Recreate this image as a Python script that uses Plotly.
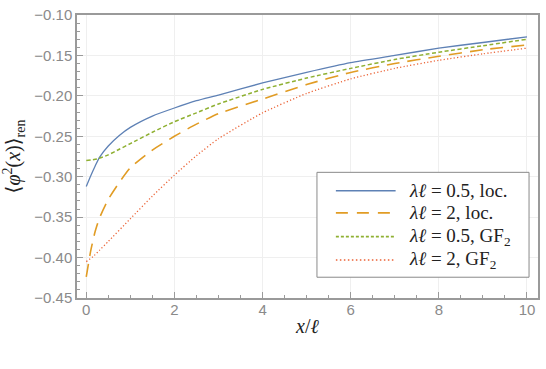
import plotly.graph_objects as go

# ---- data ----
x_blue = [0, 0.1, 0.2, 0.3, 0.5, 0.75, 1, 1.5, 2, 2.5, 3, 4, 5, 6, 7, 8, 9, 10]
y_blue = [-0.312, -0.299, -0.287, -0.276, -0.262, -0.249, -0.239, -0.225, -0.215, -0.206,
          -0.199, -0.184, -0.171, -0.159, -0.150, -0.141, -0.134, -0.127]

x_orange = [0, 0.1, 0.2, 0.3, 0.5, 0.75, 1, 1.5, 2, 2.5, 3, 4, 5, 6, 7, 8, 9, 10]
y_orange = [-0.424, -0.392, -0.368, -0.351, -0.328, -0.307, -0.289, -0.267, -0.250, -0.235,
            -0.222, -0.204, -0.186, -0.171, -0.160, -0.151, -0.143, -0.137]

x_green = [0, 0.25, 0.5, 0.75, 1, 1.5, 2, 2.5, 3, 4, 5, 6, 7, 8, 9, 10]
y_green = [-0.280, -0.278, -0.273, -0.266, -0.259, -0.245, -0.232, -0.221, -0.210,
           -0.192, -0.178, -0.166, -0.155, -0.146, -0.138, -0.130]

x_red = [0, 0.15, 0.3, 0.5, 1, 1.5, 2, 2.5, 3, 4, 5, 6, 7, 8, 9, 10]
y_red = [-0.405, -0.399, -0.391, -0.380, -0.352, -0.324, -0.298, -0.274, -0.253,
         -0.221, -0.197, -0.179, -0.166, -0.156, -0.148, -0.141]

names = ["<i>λℓ</i> = 0.5, loc.", "<i>λℓ</i> = 2, loc.",
         "<i>λℓ</i> = 0.5, GF<sub>2</sub>", "<i>λℓ</i> = 2, GF<sub>2</sub>"]
colors = ["#5e81b5", "#e19c24", "#8fb032", "#eb6235"]
dashes = ["solid", "13px,8px", "4px,2.5px", "1.2px,2.2px"]
widths = [1.3, 1.6, 1.5, 1.3]
leg_dashes = ["solid", "12px,9px", "3px,2px", "1.5px,2.5px"]

xs = [x_blue, x_orange, x_green, x_red]
ys = [y_blue, y_orange, y_green, y_red]

fig = go.Figure()
for xv, yv, c, d, w, n in zip(xs, ys, colors, dashes, widths, names):
    fig.add_trace(go.Scatter(x=xv, y=yv, mode="lines", name=n,
                             line=dict(color=c, dash=d, width=w, shape="spline", smoothing=0.5),
                             showlegend=False))

axis_col = "#9a9a9a"
tick_font = dict(family="Liberation Sans, Arial, sans-serif", size=15, color="#8a8a8a")
serif = "Liberation Serif, DejaVu Serif, serif"

fig.update_layout(
    width=546, height=369,
    margin=dict(l=77, r=6, t=12, b=71),
    paper_bgcolor="white", plot_bgcolor="white",
    showlegend=False,
    xaxis=dict(range=[-0.21, 10.25], dtick=2, tick0=0, ticks="inside", ticklen=6,
               tickcolor=axis_col, tickwidth=1, showline=True, linecolor=axis_col,
               linewidth=1.5, mirror=True, showgrid=True, gridcolor="#efefef",
               gridwidth=1, zeroline=False, tickfont=tick_font, ticklabelstandoff=-3,
               minor=dict(dtick=0.5, ticks="inside", ticklen=3.5, tickcolor=axis_col, showgrid=False),
               title=dict(text="<i>x</i>/<i>ℓ</i>", font=dict(family=serif, size=20, color="#222"),
                          standoff=2)),
    yaxis=dict(range=[-0.45, -0.10], dtick=0.05, tick0=-0.45, tickformat=".2f",
               ticks="inside", ticklen=6, tickcolor=axis_col, tickwidth=1,
               showline=True, linecolor=axis_col, linewidth=1.5, mirror=True,
               showgrid=True, gridcolor="#efefef", gridwidth=1, zeroline=False,
               tickfont=tick_font,
               minor=dict(dtick=0.01, ticks="inside", ticklen=3.5, tickcolor=axis_col, showgrid=False),
               title=dict(text="⟨<i>φ</i><sup>2</sup>(<i>x</i>)⟩<sub>ren</sub>",
                          font=dict(family=serif, size=20, color="#222"), standoff=8)),
)

# ---- custom legend (box, samples, labels) ----
W, H = 463.0, 286.0
def px(xp):
    return (xp - 77) / W
def py(yp):
    return (298 - yp) / H

fig.add_shape(type="rect", xref="paper", yref="paper",
              x0=px(318), x1=px(531), y0=py(277), y1=py(171),
              line=dict(color="#8a8a8a", width=1), fillcolor="white", layer="above")
rows = [189.5, 212, 236, 259.5]
for r, c, d, w, n in zip(rows, colors, leg_dashes, widths, names):
    fig.add_shape(type="line", xref="paper", yref="paper",
                  x0=px(337), x1=px(397), y0=py(r), y1=py(r),
                  line=dict(color=c, dash=d, width=w + 0.2), layer="above")
    fig.add_annotation(xref="paper", yref="paper", x=px(408), y=py(r), xanchor="left",
                       yanchor="middle", text=n, showarrow=False,
                       font=dict(family=serif, size=19, color="#222"))

fig.write_html("out.html")
